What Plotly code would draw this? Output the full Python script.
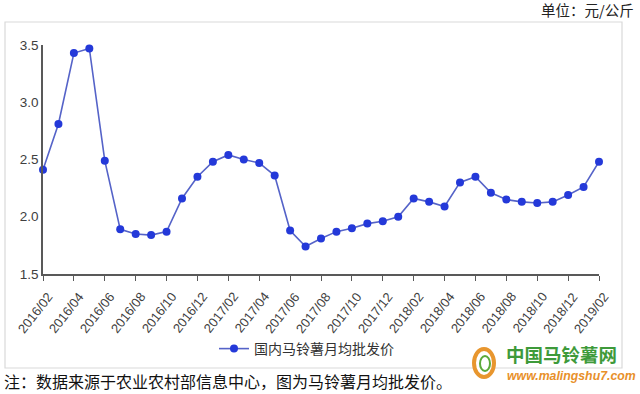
import plotly.graph_objects as go

months = ["2016/02","2016/03","2016/04","2016/05","2016/06","2016/07","2016/08","2016/09","2016/10","2016/11","2016/12",
          "2017/01","2017/02","2017/03","2017/04","2017/05","2017/06","2017/07","2017/08","2017/09","2017/10","2017/11","2017/12",
          "2018/01","2018/02","2018/03","2018/04","2018/05","2018/06","2018/07","2018/08","2018/09","2018/10","2018/11","2018/12",
          "2019/01","2019/02"]
prices = [2.41,2.81,3.43,3.47,2.49,1.89,1.85,1.84,1.87,2.16,2.35,2.48,2.54,2.50,2.47,2.36,1.88,1.74,
          1.81,1.87,1.90,1.94,1.96,2.00,2.16,2.13,2.09,2.30,2.35,2.21,2.15,2.13,2.12,2.13,2.19,2.26,2.48]
series_name = "国内马铃薯月均批发价"
yticks = [1.5, 2.0, 2.5, 3.0, 3.5]

xi = list(range(len(months)))
tick_idx = xi[::2]
tick_txt = [months[i] for i in tick_idx]

fig = go.Figure()
fig.add_trace(go.Scatter(
    x=xi, y=prices, mode="lines+markers", name=series_name,
    line=dict(color="#5563C8", width=1.6),
    marker=dict(color="#2439D9", size=8),
    cliponaxis=False,
))

L, R, T, B = 43, 41, 45, 120
W, H = 640, 394
pw, ph = W - L - R, H - T - B
def px(x): return (x - L) / pw
def py(y): return (H - B - y) / ph

annotations = [
    dict(text="单位：元/公斤", xref="paper", yref="paper", x=px(636), y=py(10),
         xanchor="right", yanchor="middle", showarrow=False,
         font=dict(size=14.5, family="Noto Sans CJK SC", color="#222222")),
    dict(text="注：数据来源于农业农村部信息中心，图为马铃薯月均批发价。", xref="paper", yref="paper",
         x=px(2), y=py(381), xanchor="left", yanchor="middle", showarrow=False,
         font=dict(size=16, family="Noto Sans CJK SC", color="#111111")),
    dict(text="<b>中国马铃薯网</b>", xref="paper", yref="paper", x=px(505), y=py(354),
         xanchor="left", yanchor="middle", showarrow=False, borderpad=0,
         font=dict(size=18.5, family="Noto Sans CJK SC", color="#3E9A3A")),
    dict(text="<b><i>www.malingshu7.com</i></b>", xref="paper", yref="paper", x=px(506), y=py(376),
         xanchor="left", yanchor="middle", showarrow=False, borderpad=0,
         font=dict(size=12.3, family="Liberation Sans", color="#E8902A")),
]
for i, t in zip(tick_idx, tick_txt):
    annotations.append(dict(text=t, xref="x", yref="paper", x=i, y=py(287), xshift=16,
                            xanchor="right", yanchor="top", textangle=-52, showarrow=False,
                            font=dict(size=13, family="Liberation Sans", color="#404040")))

fig.update_layout(
    width=W, height=H,
    margin=dict(l=L, r=R, t=T, b=B),
    paper_bgcolor="white", plot_bgcolor="white",
    font=dict(family="Liberation Sans, Noto Sans CJK SC", color="#404040"),
    showlegend=True,
    legend=dict(orientation="h", x=px(214), y=py(349), xanchor="left", yanchor="middle",
                font=dict(size=14, family="Noto Sans CJK SC", color="#333333"),
                itemwidth=30, bgcolor="rgba(0,0,0,0)"),
    xaxis=dict(range=[0, 36], tickmode="array", tickvals=tick_idx, ticktext=tick_txt,
               showticklabels=False,
               ticks="outside", ticklen=5, tickcolor="#595959",
               showline=True, linecolor="#595959", linewidth=1.5, showgrid=False,
               zeroline=False),
    yaxis=dict(range=[1.5, 3.5], tickmode="array", tickvals=yticks,
               ticktext=[f"{v:.1f}" for v in yticks],
               showline=True, linecolor="#595959", linewidth=1.5, showgrid=False,
               zeroline=False, ticks="", tickfont=dict(size=13.5, color="#404040")),
    shapes=[
        dict(type="rect", xref="paper", yref="paper", x0=px(5), x1=px(622), y0=py(368), y1=py(22),
             line=dict(color="#D9D9D9", width=1.2), layer="below"),
        dict(type="circle", xref="paper", yref="paper", x0=px(474), x1=px(494), y0=py(377), y1=py(349),
             line=dict(color="#E8962E", width=4), fillcolor="white"),
        dict(type="circle", xref="paper", yref="paper", x0=px(480), x1=px(490), y0=py(371), y1=py(356),
             line=dict(color="#5BAA3A", width=2), fillcolor="#FFFFFF"),
    ],
    annotations=annotations,
)

fig.write_html("out.html")
